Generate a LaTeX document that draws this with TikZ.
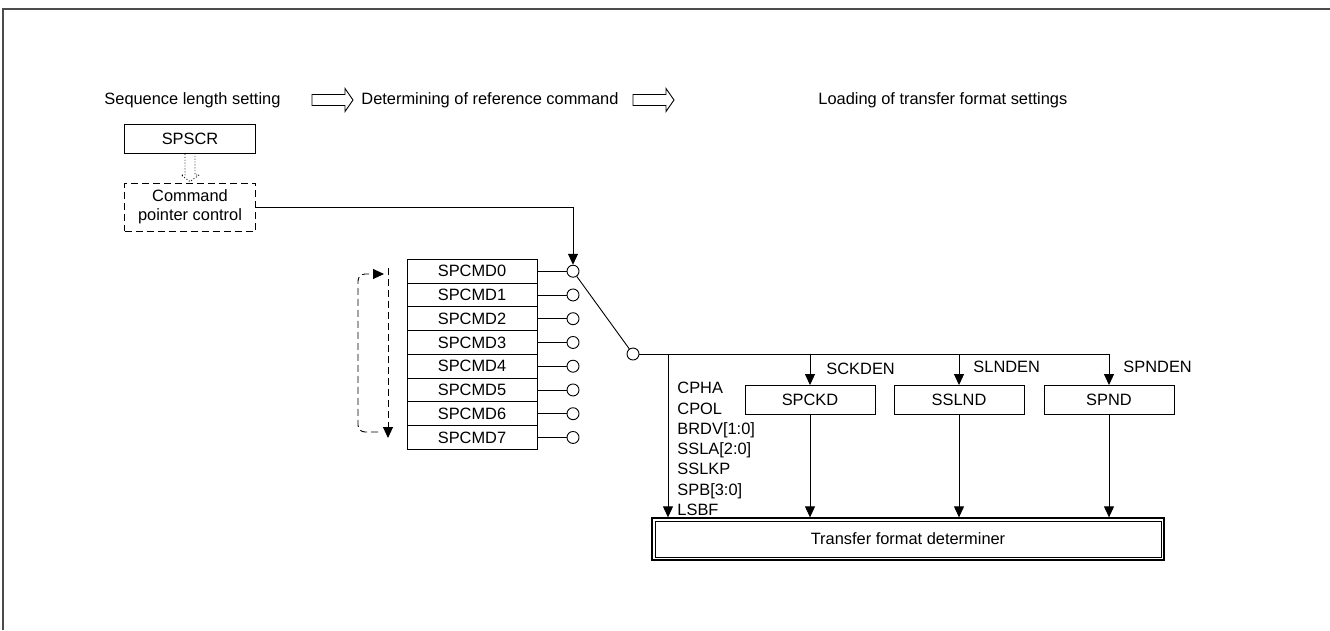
\documentclass[tikz,border=0pt]{standalone}
\usepackage{fontspec}
\setmainfont{Liberation Sans}
\usetikzlibrary{arrows.meta,positioning,calc}

\tikzset{
  reg/.style={draw,minimum width=131,minimum height=29,inner sep=0},
  cmdreg/.style={draw,minimum width=130,minimum height=23.75,inner sep=0},
  port/.style={draw,circle,minimum size=12,inner sep=0,fill=white},
  lbl/.style={inner sep=0,anchor=west},
  arr/.style={-{Triangle[length=11,width=10]}},
  dashline/.style={dash pattern=on 7pt off 4pt},
}

\begin{document}
\begin{tikzpicture}[x=1pt,y=-1pt,font=\fontsize{16.4}{19}\selectfont,line width=0.9pt]
\useasboundingbox (0,0) rectangle (1330,630);
% frame
\draw[gray!60!black,line width=1.4pt] (3,630)--(3,9)--(1330,9);

% phase headings
\node[lbl] (seqtxt) at (104,100) {Sequence length setting};
\node[lbl] (dettxt) at (361,100) {Determining of reference command};
\node[lbl] (loadtxt) at (818,100) {Loading of transfer format settings};
\foreach \ax in {312,633}{
\draw (\ax,94.5)--++(33,0)--++(0,-6)--++(8,11.5)--++(-8,11.5)--++(0,-6)--++(-33,0)--cycle;
}

% sequence length / pointer
\node[reg] (spscr) at (190,139) {SPSCR};
\node[reg,minimum height=48,dash pattern=on 7pt off 4pt,align=center,
  font=\fontsize{16.4}{19}\selectfont] (cpc) at (190,207) {Command\\pointer control};
\draw[dotted] ($(spscr.south)+(-5,0)$)--++(0,21)--++(-4,0)--($(cpc.north)+(0,-1)$)
  --($(spscr.south)+(9,21)$)--++(-4,0)--++(0,-21);

% command registers
\foreach \i in {0,...,7}{
\node[cmdreg] (cmd\i) at (472,{271.2+23.75*\i}) {SPCMD\i};
\node[port] (p\i) at (573,{271.2+23.75*\i}) {};
\draw (cmd\i.east)--(p\i);
}
\draw[arr] (cpc.east)-|(p0.north);

% rotation of reference command
\coordinate (rottop) at (388,268);
\coordinate (rotbot) at (388,438);
\draw[dashline,arr] (rottop)--(rotbot);
\coordinate (retstart) at (378,432);
\coordinate (retend) at (384,274);
\draw[dashline,arr,rounded corners=7] (retstart)--(358,432)--(358,274)--(retend);

% switch and bus
\node[port] (sw) at (633,354) {};
\draw (p0)--(sw);

\node[reg,minimum width=130] (spckd) at (810,400) {SPCKD};
\node[reg,minimum width=130] (sslnd) at (959,400) {SSLND};
\node[reg,minimum width=130] (spnd) at (1109,400) {SPND};
\node[draw,line width=1.3pt,minimum width=512,minimum height=42,inner sep=0]
  (tfd) at (908,539) {Transfer format determiner};
\draw[line width=0.6pt] ($(tfd.north west)+(3.5,3.5)$) rectangle ($(tfd.south east)+(-3.5,-3.5)$);

\draw[arr] (sw.east)-|(spnd.north);
\draw[arr] (spckd.north|-sw)--(spckd.north);
\draw[arr] (sslnd.north|-sw)--(sslnd.north);
\coordinate (cmdbr) at (668,354);
\draw[arr] (cmdbr)--(cmdbr|-tfd.north);

\node[lbl] (sckden) at (826,369) {SCKDEN};
\node[lbl] (slnden) at (973,367) {SLNDEN};
\node[lbl] (spnden) at (1123,367) {SPNDEN};

\node[lbl,align=left,font=\fontsize{16.4}{20.3}\selectfont] (flags) at (677,449)
  {CPHA\\CPOL\\BRDV[1:0]\\SSLA[2:0]\\SSLKP\\SPB[3:0]\\LSBF};

\foreach \b in {spckd,sslnd,spnd}{
\draw[arr] (\b.south)--(\b.south|-tfd.north);
}
\end{tikzpicture}
\end{document}
